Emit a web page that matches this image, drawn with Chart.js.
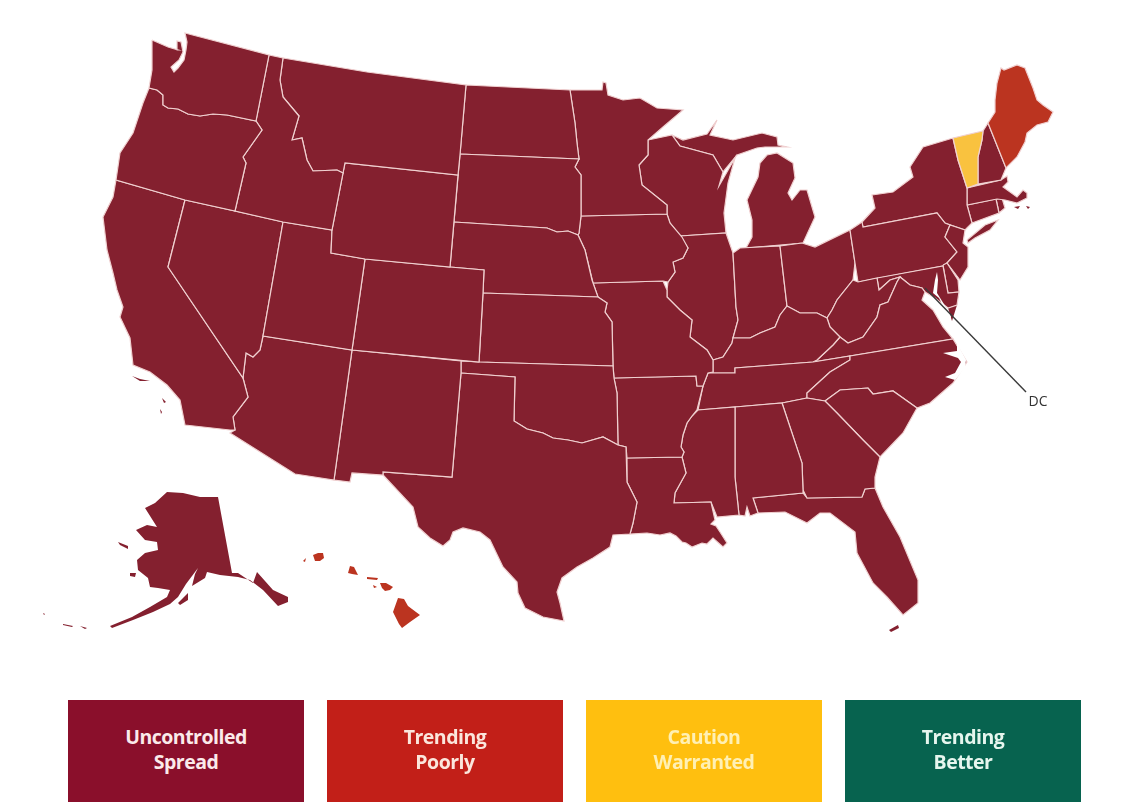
<!DOCTYPE html>
<html>
<head>
<meta charset="utf-8">
<title>US state trend map</title>
<script src="https://cdn.jsdelivr.net/npm/chart.js@4"></script>
<style>
  body { margin: 0; background: #fff; overflow: hidden; }
  #wrap { position: relative; width: 1125px; height: 806px; }
  canvas { position: absolute; left: 0; top: 0; }
  .key { position: absolute; top: 700px; height: 102px; width: 236px; box-sizing: border-box; padding-top: 24px;
    text-align: center; font: 700 19.5px/25px "Open Sans", sans-serif; letter-spacing: -0.5px; }
</style>
</head>
<body>
<div id="wrap"><canvas id="map" width="1125" height="806"></canvas><div id="legend"></div></div>
<script>
const washington = [[152,40],[168,47],[178,50],[177,41],[181,42],[183,52],[179,60],[171,67],[174,72],[178,68],[184,60],[186,50],[187,42],[185,33],[269,55],[256,121],[227,115],[213,114],[200,116],[188,114],[178,109],[168,108],[163,105],[163,95],[157,90],[149,88],[152,70],[152,53]];
const oregon = [[149,88],[157,90],[163,95],[163,105],[168,108],[178,109],[188,114],[200,116],[213,114],[227,115],[256,121],[262,130],[243,157],[246,163],[235,211],[185,200],[116,180],[120,153],[133,133],[143,103]];
const idaho = [[269,55],[283,58],[280,80],[283,97],[299,116],[292,140],[302,138],[307,160],[313,171],[337,170],[343,173],[332,230],[283,222],[235,211],[246,163],[243,157],[262,130],[256,121]];
const montana = [[283,58],[367,72],[466,85],[460,155],[458,175],[345,163],[343,173],[337,170],[313,171],[307,160],[302,138],[292,140],[299,116],[283,97],[280,80]];
const wyoming = [[345,163],[458,175],[450,267],[365,259],[331,253],[332,230],[343,173]];
const utah = [[283,222],[332,230],[331,253],[365,259],[352,350],[263,336]];
const colorado = [[365,259],[450,267],[484,270],[483,293],[479,362],[352,350]];
const nevada = [[185,200],[235,211],[283,222],[263,336],[260,350],[253,357],[246,353],[243,378],[168,267]];
const california = [[116,180],[185,200],[168,267],[243,378],[248,397],[233,417],[235,430],[230,430],[185,425],[180,400],[167,385],[150,372],[133,365],[130,338],[120,317],[123,307],[117,290],[113,273],[107,250],[103,217],[113,197]];
const arizona = [[263,336],[352,350],[334,480],[295,474],[230,433],[235,430],[233,417],[248,397],[243,378],[246,353],[253,357],[260,350]];
const newMexico = [[352,350],[461,361],[461,373],[452,477],[383,472],[383,475],[352,473],[350,482],[334,480]];
const texas = [[461,373],[515,377],[514,421],[527,429],[543,433],[553,438],[568,440],[582,443],[603,437],[618,445],[626,447],[627,482],[637,502],[633,523],[630,534],[613,535],[610,547],[593,558],[577,567],[562,578],[557,592],[560,603],[564,621],[543,617],[525,608],[518,593],[517,582],[503,567],[490,540],[480,532],[463,528],[453,532],[450,540],[443,546],[430,538],[418,527],[413,507],[383,475],[383,472],[452,477]];
const oklahoma = [[461,361],[479,362],[613,366],[614,378],[617,393],[618,445],[603,437],[582,443],[568,440],[553,438],[543,433],[527,429],[514,421],[515,377],[461,373]];
const kansas = [[483,293],[598,297],[607,303],[605,312],[612,322],[613,366],[479,362]];
const nebraska = [[454,222],[547,228],[557,232],[568,231],[578,235],[585,250],[592,280],[598,297],[483,293],[484,270],[450,267]];
const southDakota = [[460,154],[579,159],[575,167],[581,175],[581,216],[579,233],[578,235],[568,231],[557,232],[547,228],[454,222]];
const northDakota = [[466,85],[570,90],[575,123],[577,143],[579,159],[460,154]];
const minnesota = [[570,90],[602,90],[603,82],[606,83],[608,95],[623,100],[640,98],[657,108],[683,110],[663,127],[648,140],[648,155],[639,165],[642,185],[667,205],[667,214],[581,216],[581,175],[575,167],[579,159],[577,143],[575,123]];
const iowa = [[581,216],[667,214],[670,223],[682,237],[688,248],[683,258],[673,262],[675,272],[668,282],[663,281],[593,283],[585,250],[578,235],[579,233]];
const missouri = [[593,283],[663,281],[667,290],[667,297],[680,310],[692,320],[690,337],[707,350],[713,360],[713,372],[708,373],[703,386],[697,386],[696,376],[614,378],[613,366],[612,322],[605,312],[607,303],[598,297]];
const arkansas = [[614,378],[696,376],[697,386],[703,386],[697,410],[692,416],[687,423],[683,435],[681,447],[684,452],[682,457],[627,458],[626,447],[618,445],[617,393]];
const louisiana = [[627,458],[682,457],[686,473],[675,493],[674,503],[711,502],[715,520],[711,524],[716,526],[720,532],[727,543],[723,547],[713,538],[707,544],[702,543],[692,547],[686,543],[682,542],[676,536],[670,533],[660,535],[647,533],[630,534],[633,523],[637,502],[627,482]];
const mississippi = [[698,410],[735,407],[735,477],[739,515],[717,517],[711,502],[674,503],[675,493],[686,473],[682,457],[684,452],[681,447],[683,435],[687,423],[692,416]];
const alabama = [[735,407],[782,403],[802,463],[803,490],[803,493],[753,498],[758,513],[750,516],[747,507],[745,516],[739,515],[735,477]];
const georgia = [[782,403],[807,398],[825,401],[837,413],[863,440],[880,457],[875,477],[875,488],[865,489],[862,497],[807,498],[803,490],[802,463]];
const florida = [[753,498],[803,493],[807,498],[862,497],[865,489],[875,488],[883,507],[900,537],[918,580],[918,603],[903,615],[887,597],[873,583],[857,553],[855,532],[830,513],[820,513],[807,523],[785,512],[758,513]];
const southCarolina = [[825,401],[840,390],[868,388],[873,394],[893,391],[917,408],[903,433],[880,457],[863,440],[837,413]];
const northCarolina = [[807,398],[807,393],[830,372],[850,360],[850,356],[953,339],[967,362],[953,383],[930,403],[917,408],[893,391],[873,394],[868,388],[840,390],[825,401]];
const tennessee = [[708,373],[735,373],[735,368],[813,362],[850,356],[850,360],[830,372],[807,393],[807,398],[782,403],[735,407],[698,410],[703,386]];
const kentucky = [[713,360],[723,357],[732,343],[733,338],[750,338],[760,333],[775,327],[780,315],[787,306],[800,313],[817,313],[827,318],[830,327],[840,337],[833,345],[817,360],[813,362],[735,368],[735,373],[708,373],[713,372]];
const virginia = [[817,360],[833,345],[840,337],[848,343],[863,337],[877,317],[880,305],[888,302],[897,282],[900,277],[910,285],[922,288],[925,292],[922,300],[933,310],[943,327],[953,339],[850,356],[813,362]];
const virginiaShore = [[948,308],[957,305],[952,321]];
const westVirginia = [[827,318],[832,310],[837,300],[853,280],[858,282],[877,278],[879,290],[890,280],[900,277],[897,282],[888,302],[880,305],[877,317],[863,337],[848,343],[840,337],[830,327]];
const maryland = [[877,278],[943,266],[948,293],[959,292],[957,305],[948,308],[935,298],[925,292],[922,288],[910,285],[900,277],[890,280],[879,290]];
const delaware = [[943,265],[947,263],[958,280],[959,292],[948,293]];
const newJersey = [[950,225],[965,230],[963,243],[968,247],[968,267],[960,280],[947,263],[957,252],[945,237]];
const pennsylvania = [[850,230],[862,222],[863,227],[937,213],[945,223],[950,225],[945,237],[957,252],[947,263],[943,266],[858,282],[855,263]];
const newYork = [[953,138],[923,147],[910,167],[913,177],[893,192],[872,195],[875,208],[862,222],[863,227],[937,213],[945,223],[965,230],[972,223],[967,205],[967,188],[958,160]];
const longIsland = [[967,240],[985,225],[998,220],[990,230],[975,238],[968,243]];
const vermont = [[953,138],[983,131],[982,140],[978,157],[978,184],[967,188],[958,160]];
const newHampshire = [[983,131],[988,123],[1006,168],[1001,180],[978,184],[978,157],[982,140]];
const maine = [[988,123],[995,112],[995,100],[997,83],[1001,68],[1004,70],[1017,65],[1025,68],[1033,88],[1037,100],[1043,105],[1053,112],[1048,122],[1037,125],[1027,133],[1025,142],[1017,157],[1006,168]];
const massachusetts = [[967,188],[1001,180],[1007,176],[1008,182],[1003,187],[1017,197],[1023,190],[1027,193],[1027,198],[1017,203],[1005,200],[997,199],[967,205]];
const marthasVineyard = [[1014,207],[1020,206],[1018,209]];
const nantucket = [[1026,206],[1030,207],[1028,209]];
const connecticut = [[967,205],[996,199],[999,213],[972,223]];
const rhodeIsland = [[996,199],[1002,198],[1005,208],[999,213]];
const ohio = [[780,246],[802,243],[815,247],[850,230],[855,263],[853,280],[837,300],[832,310],[827,318],[817,313],[800,313],[787,306]];
const indiana = [[733,253],[740,248],[780,246],[787,306],[780,315],[775,327],[760,333],[750,338],[733,338],[738,320],[736,307]];
const illinois = [[680,236],[726,233],[733,253],[736,307],[738,320],[733,338],[732,343],[723,357],[713,360],[707,350],[690,337],[692,320],[680,310],[667,297],[667,290],[668,282],[675,272],[673,262],[683,258],[688,248]];
const wisconsin = [[648,140],[672,135],[680,146],[713,155],[723,172],[719,186],[735,158],[728,183],[724,213],[726,233],[680,236],[670,223],[667,214],[667,205],[642,185],[639,165],[648,155]];
const upperMichigan = [[672,135],[683,140],[707,134],[717,120],[710,135],[733,140],[762,133],[777,137],[778,145],[787,147],[765,147],[757,148],[737,155],[723,172],[713,155],[680,146]];
const lowerMichigan = [[746,248],[803,243],[815,217],[807,190],[800,190],[792,200],[788,193],[795,178],[793,163],[777,153],[767,155],[760,163],[758,177],[747,200],[752,220],[752,237]];
const alaska = [[218,497],[232,573],[238,573],[253,583],[257,572],[273,590],[288,597],[288,602],[278,606],[263,590],[250,580],[238,577],[220,575],[207,572],[205,578],[192,586],[195,574],[198,568],[186,584],[178,597],[170,604],[153,612],[133,620],[112,628],[110,626],[132,617],[150,607],[167,597],[170,590],[158,588],[150,587],[148,578],[138,570],[137,560],[145,553],[158,550],[157,542],[145,540],[136,530],[147,525],[157,527],[145,508],[155,503],[167,492],[183,493],[200,497]];
const kodiak = [[178,603],[184,597],[188,593],[188,600],[180,605]];
const nunivak = [[130,573],[136,573],[135,577],[130,576]];
const stLawrence = [[118,542],[128,546],[128,549],[120,545]];
const aleutianA = [[63,624],[73,626],[72,627],[63,625]];
const aleutianB = [[80,626],[87,628],[85,629]];
const aleutianC = [[43,613],[45,614],[44,615]];
const floridaKeys = [[889,630],[898,625],[899,628],[891,632]];
const channelIslandA = [[132,376],[140,379],[150,381],[140,381]];
const channelIslandB = [[162,398],[166,402],[164,403]];
const channelIslandC = [[160,409],[162,412],[161,414]];
const bigIsland = [[398,598],[404,599],[408,606],[420,615],[410,622],[402,628],[399,624],[393,612]];
const maui = [[380,583],[386,583],[393,587],[390,590],[385,591],[382,588]];
const molokai = [[367,577],[378,578],[377,580],[367,579]];
const lanai = [[373,585],[377,587],[374,588]];
const oahu = [[350,566],[354,567],[358,575],[352,574],[348,573]];
const kauai = [[313,555],[318,553],[323,553],[324,558],[320,561],[315,561]];
const niihau = [[303,561],[306,558],[305,562]];
const chesapeakeBay = [[937,272],[935,280],[933,293],[939,298],[944,308],[942,320],[947,327],[951,317],[947,309],[937,293],[938,280]];
const pamlicoSound = [[957,343],[966,360],[965,368],[955,380],[945,377],[955,373],[961,362],[958,358],[943,353],[957,351]];
const dcLeader = [[925,288],[1026,392]];

// Which colour each outline gets
const uncontrolledStates = [washington, oregon, idaho, montana, wyoming, utah, colorado, nevada, california, arizona, newMexico, texas, oklahoma, kansas, nebraska, southDakota, northDakota, minnesota, iowa, missouri, arkansas, louisiana, mississippi, alabama, georgia, florida, southCarolina, northCarolina, tennessee, kentucky, virginia, westVirginia, maryland, delaware, newJersey, pennsylvania, newYork, longIsland, newHampshire, massachusetts, connecticut, rhodeIsland, ohio, indiana, illinois, wisconsin, upperMichigan, lowerMichigan];
const uncontrolledIslands = [alaska, kodiak, nunivak, stLawrence, aleutianA, aleutianB, aleutianC, floridaKeys, channelIslandA, channelIslandB, channelIslandC, virginiaShore, marthasVineyard, nantucket];
const poorlyStates = [maine];
const poorlyIslands = [bigIsland, maui, molokai, lanai, oahu, kauai, niihau];
const cautionStates = [vermont];
const waterBodies = [chesapeakeBay, pamlicoSound];

const legendLabels = [["Uncontrolled", "Spread"], ["Trending", "Poorly"], ["Caution", "Warranted"], ["Trending", "Better"]];
const legendColors = ["#8a0f2b", "#c21f18", "#ffbf0f", "#07634f"];
const legendTextColors = ["#fbeaea", "#fbe6dc", "#fff0b4", "#e6f6ee"];
const legendLefts = [68, 327, 586, 845];

const MAROON = "#84202f";
const RUST = "#bb3420";
const YELLOW = "#f9c23f";
const BORDER = "#f0d0d0";

function shape(outline, color, borderWidth) {
  const closed = outline.concat([outline[0]]);
  return {
    data: closed.map(([x, y]) => ({ x, y })),
    showLine: true,
    fill: "shape",
    backgroundColor: color,
    borderColor: borderWidth ? BORDER : color,
    borderWidth: borderWidth,
    pointRadius: 0,
    tension: 0,
  };
}

const datasets = [
  { data: dcLeader.map(([x, y]) => ({ x, y })), showLine: true, borderColor: "#3a3a3a", borderWidth: 1.4, pointRadius: 0 },
  ...waterBodies.map((o) => shape(o, "#ffffff", 0)),
  ...cautionStates.map((o) => shape(o, YELLOW, 1.2)),
  ...poorlyStates.map((o) => shape(o, RUST, 1.2)),
  ...poorlyIslands.map((o) => shape(o, RUST, 0)),
  ...uncontrolledStates.map((o) => shape(o, MAROON, 1.2)),
  ...uncontrolledIslands.map((o) => shape(o, MAROON, 0)),
];

// DC label sits at the far end of the leader line
const dcLabel = {
  id: "dcLabel",
  afterDatasetsDraw(chart) {
    const { ctx, scales } = chart;
    const end = dcLeader[dcLeader.length - 1];
    ctx.save();
    ctx.font = '14px "Open Sans", sans-serif';
    ctx.fillStyle = "#333";
    ctx.textAlign = "center";
    ctx.textBaseline = "middle";
    ctx.fillText("DC", scales.x.getPixelForValue(end[0] + 12), scales.y.getPixelForValue(end[1] + 10));
    ctx.restore();
  },
};

new Chart(document.getElementById("map"), {
  type: "scatter",
  data: { datasets },
  plugins: [dcLabel],
  options: {
    responsive: false,
    animation: false,
    layout: { padding: 0 },
    plugins: { legend: { display: false }, tooltip: { enabled: false } },
    scales: {
      x: { type: "linear", min: 0, max: 1125, display: false },
      y: { type: "linear", min: 0, max: 806, reverse: true, display: false },
    },
  },
});

const legend = document.getElementById("legend");
legendLabels.forEach((lines, i) => {
  const box = document.createElement("div");
  box.className = "key";
  box.style.left = legendLefts[i] + "px";
  box.style.background = legendColors[i];
  box.style.color = legendTextColors[i];
  box.innerHTML = lines.join("<br>");
  legend.appendChild(box);
});
</script>
</body>
</html>
